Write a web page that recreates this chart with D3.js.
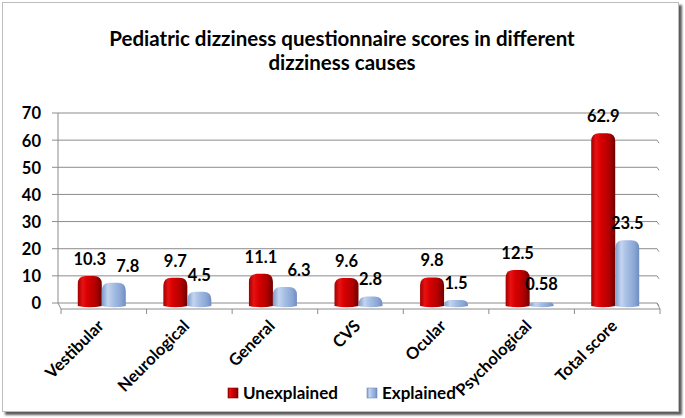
<!DOCTYPE html>
<html><head><meta charset="utf-8">
<script src="https://cdn.jsdelivr.net/npm/d3@7"></script>
<style>html,body{margin:0;padding:0;background:#fff;}svg{display:block;}text{font-family:Lato,"Open Sans",sans-serif;font-weight:bold;fill:#000;}</style>
</head><body>
<script>
const categories = ["Vestibular","Neurological","General","CVS","Ocular","Psychological","Total score"];
const unexplained = [10.3,9.7,11.1,9.6,9.8,12.5,62.9];
const explained = [7.8,4.5,6.3,2.8,1.5,0.58,23.5];
const seriesNames = ["Unexplained","Explained"];
const yTickValues = [0,10,20,30,40,50,60,70];
const titleLines = ["Pediatric dizziness questionnaire scores in different","dizziness causes"];

const W=685,H=418;
const svg=d3.select("body").append("svg").attr("width",W).attr("height",H);
const defs=svg.append("defs");
const sh=defs.append("filter").attr("id","shadow").attr("x","-5%").attr("y","-5%").attr("width","110%").attr("height","110%");
sh.append("feDropShadow").attr("dx",3).attr("dy",3).attr("stdDeviation",1.2).attr("flood-color","#404040").attr("flood-opacity",0.85);

function grad(id,stops){const g=defs.append("linearGradient").attr("id",id).attr("x1","0").attr("x2","1").attr("y1","0").attr("y2","0");
 stops.forEach(s=>g.append("stop").attr("offset",s[0]).attr("stop-color",s[1]));}
grad("gRed",[["0%","#a00000"],["20%","#e81212"],["40%","#d80000"],["75%","#b00000"],["100%","#700000"]]);
grad("gBlue",[["0%","#7d9bcb"],["25%","#c3d4ef"],["50%","#a4bde3"],["80%","#8aa6d4"],["100%","#6f8dc2"]]);
const fills={"Unexplained":"url(#gRed)","Explained":"url(#gBlue)"};

// frame
svg.append("rect").attr("x",2.5).attr("y",2.5).attr("width",676).attr("height",409)
 .attr("fill","#fff").attr("stroke","#bdbdbd").attr("stroke-width",1).attr("filter","url(#shadow)");

// title
svg.append("text").attr("x",342).attr("y",46).attr("text-anchor","middle").style("font-size","20.5px")
 .selectAll("tspan").data(titleLines).join("tspan").attr("x",342).attr("dy",(d,i)=>i?24:0).text(d=>d);

const x0=d3.scaleBand().domain(categories).range([59,658]);
const y=d3.scaleLinear().domain([0,70]).range([303,113]);
const barW=24;
const x1=d3.scaleBand().domain(seriesNames).range([x0.bandwidth()/2-barW,x0.bandwidth()/2+barW]);

const grid="#8c8c8c";
const g=svg.append("g");
yTickValues.forEach(t=>{
  g.append("path").attr("d",`M52,${y(t)}H657l2,3`).attr("fill","none").attr("stroke",grid).attr("stroke-width",1);
});
g.append("line").attr("x1",58).attr("x2",58).attr("y1",y(70)).attr("y2",y(0)).attr("stroke",grid);
g.append("path").attr("d",`M58,${y(0)}L61,309H660L657,${y(0)}`).attr("fill","none").attr("stroke",grid);
const bounds=categories.map(c=>x0(c)).concat([x0.range()[1]]);
g.selectAll(".btick").data(bounds).join("line").attr("x1",d=>d+2).attr("x2",d=>d+2).attr("y1",309).attr("y2",314).attr("stroke",grid);

// y axis labels
const yAxis=d3.axisLeft(y).tickValues(yTickValues).tickSize(0).tickPadding(0);
const yAxisG=svg.append("g").attr("transform","translate(41,0)").call(yAxis);
yAxisG.select(".domain").remove();
yAxisG.selectAll("text").style("font-size","16.5px").style("font-family","Lato,sans-serif").attr("fill","#000").attr("dy","0.36em");

// bars
const bottom=306;
function barPath(xl,top,w){
  const h=bottom-top; const r=Math.min(8,Math.max(h,1.5));
  return `M${xl},${bottom}L${xl},${top+r}Q${xl},${top} ${xl+r},${top}L${xl+w-r},${top}Q${xl+w},${top} ${xl+w},${top+r}L${xl+w},${bottom}Q${xl+w/2},${bottom+2.5} ${xl},${bottom}Z`;
}
const rows=categories.map((c,i)=>({cat:c,vals:[{s:"Unexplained",v:unexplained[i]},{s:"Explained",v:explained[i]}]}));
const groups=svg.append("g").selectAll("g").data(rows).join("g").attr("transform",d=>`translate(${x0(d.cat)},0)`);
groups.selectAll("path").data(d=>d.vals).join("path")
 .attr("d",d=>barPath(x1(d.s),Math.min(y(d.v)+1,bottom-3),barW))
 .attr("fill",d=>fills[d.s]);

// data labels
const labels=svg.append("g");
rows.forEach(r=>{
  const nodes=r.vals.map(d=>{
    const cx=x0(r.cat)+x1(d.s)+barW/2;
    return labels.append("text").attr("x",cx).attr("y",Math.min(y(d.v),bottom-6)-10).attr("text-anchor","middle").style("font-size","16.5px").text(d.v);
  });
  const a=nodes[0].node().getBBox(), b=nodes[1].node().getBBox();
  const xo=a.x+a.width-b.x, yo=Math.min(a.y+a.height,b.y+b.height)-Math.max(a.y,b.y);
  if(xo>1 && yo>3){ nodes[1].attr("x",+nodes[1].attr("x")+14); }
});

// x labels
svg.append("g").selectAll("text").data(categories).join("text")
 .attr("transform",d=>`translate(${x0(d)+x0.bandwidth()/2+3},327) rotate(-45)`)
 .attr("text-anchor","end").style("font-size","16.5px").text(d=>d);

// legend
const leg=svg.append("g").attr("transform","translate(228,388)");
const legX=[0,139];
seriesNames.forEach((s,i)=>{
  leg.append("rect").attr("x",legX[i]).attr("y",0).attr("width",10).attr("height",10).attr("fill",fills[s]).attr("stroke",i?"#6f8dc2":"#7a0000").attr("stroke-width",0.6);
  leg.append("text").attr("x",legX[i]+15).attr("y",11).style("font-size","17px").text(s);
});
</script>
</body></html>
